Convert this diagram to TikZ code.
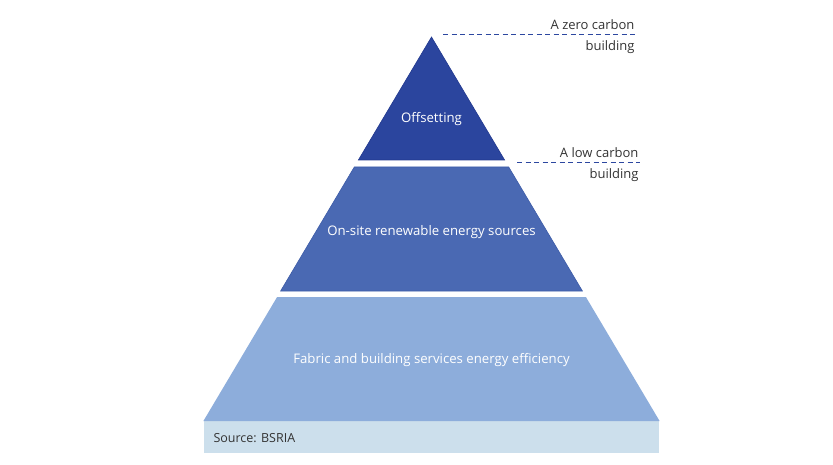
\documentclass[tikz,border=0pt]{standalone}
\usepackage{fontspec}
\setmainfont{Open Sans}
\definecolor{topblue}{HTML}{2B459E}
\definecolor{topedge}{HTML}{22398F}
\definecolor{midblue}{HTML}{4A69B3}
\definecolor{midedge}{HTML}{3D5CA8}
\definecolor{lowblue}{HTML}{8DADDB}
\definecolor{srcblue}{HTML}{CCDFEC}
\definecolor{dashblue}{HTML}{2C47A0}
\definecolor{txtgray}{HTML}{333333}
\begin{document}
\begin{tikzpicture}[x=1pt,y=-1pt,
  lbl/.style={font=\fontsize{13.2}{15}\selectfont,text=white},
  side/.style={font=\fontsize{13}{15}\selectfont,text=txtgray,align=right,anchor=east},
  guide/.style={dashblue,dash pattern=on 5pt off 3.5pt,line width=1pt}]
\useasboundingbox (0,0) rectangle (833,465);
% layers
\fill[srcblue] (204,421) rectangle (659,453);
\fill[lowblue] (277.1,297) -- (585.9,297) -- (659.6,421) -- (203.4,421) -- cycle;
\filldraw[fill=midblue,draw=midedge,line width=0.6pt] (354.3,167) -- (508.7,167) -- (582.4,291) -- (280.6,291) -- cycle;
\filldraw[fill=topblue,draw=topedge,line width=0.6pt] (431.5,37) -- (504.6,160) -- (358.4,160) -- cycle;
% labels
\node[lbl] (off) at (431.5,119.5) {Offsetting};
\node[lbl] (ons) at (431.5,232.5) {On-site renewable energy sources};
\node[lbl] (fab) at (431.5,360) {Fabric and building services energy efficiency};
\node[font=\fontsize{12.5}{14}\selectfont,text=txtgray,anchor=west] (src) at (210,438) {Source: BSRIA};
% side notes
\coordinate (z1) at (443,35);
\coordinate (z2) at (636,35);
\draw[guide] (z1) -- (z2);
\node[side] (zt) at (638,25) {A zero carbon};
\node[side] (zb) at (638,47) {building};
\coordinate (l1) at (517,163);
\coordinate (l2) at (640,163);
\draw[guide] (l1) -- (l2);
\node[side] (lt) at (642,153) {A low carbon};
\node[side] (lb) at (642,175) {building};
\end{tikzpicture}
\end{document}
